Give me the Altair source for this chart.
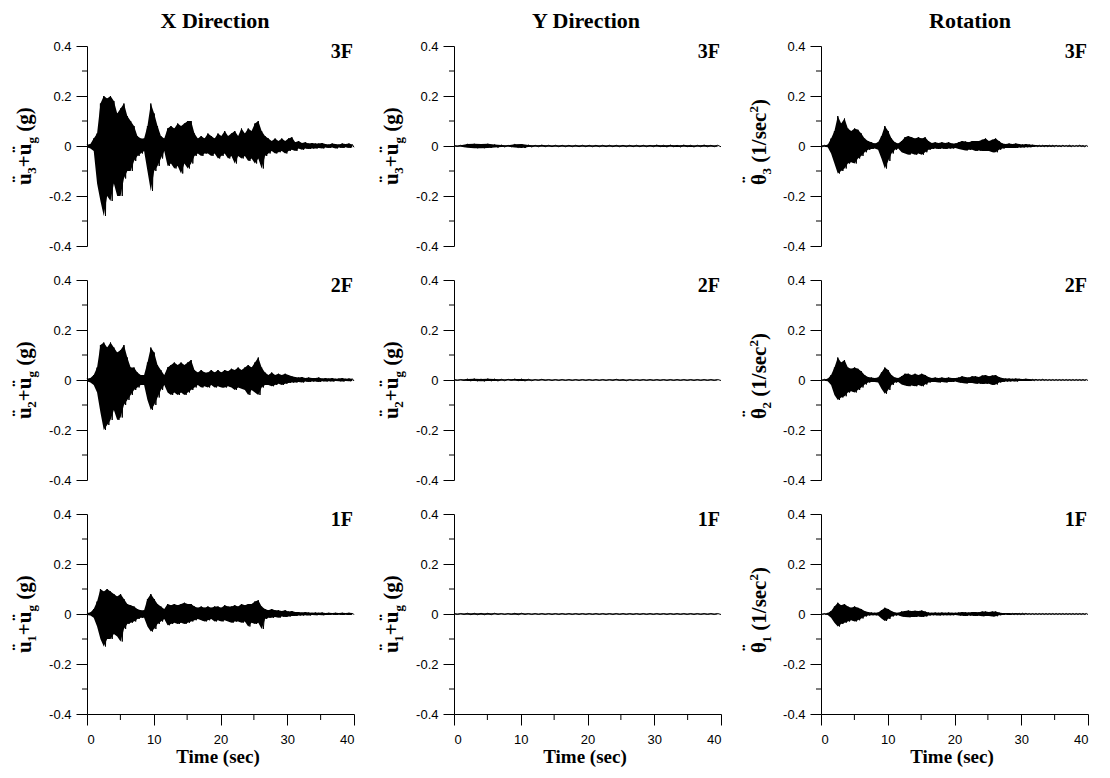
import altair as alt
import pandas as pd

# ---------------- data (peak envelopes) ----------------
# Each series: positive peaks (up) and negative peaks (lo) in successive
# windows over 0-40 s; drawn as one oscillating trace with its filled band.
TIME_END = 40
y_ticks = [-0.4, -0.2, 0, 0.2, 0.4]
y_minor = [-0.3, -0.1, 0.1, 0.3]
x_ticks = [0, 10, 20, 30, 40]
x_minor = [5, 15, 25, 35]

x3_up = [0.005, 0.008, 0.03, 0.05, 0.17, 0.20, 0.19, 0.20, 0.18, 0.13,
         0.15, 0.17, 0.12, 0.10, 0.08, 0.04, 0.03, 0.03, 0.08, 0.17,
         0.13, 0.08, 0.04, 0.03, 0.07, 0.08, 0.07, 0.09, 0.08, 0.09,
         0.10, 0.10, 0.05, 0.03, 0.04, 0.03, 0.05, 0.04, 0.03, 0.05,
         0.04, 0.06, 0.04, 0.05, 0.06, 0.04, 0.07, 0.05, 0.07, 0.06,
         0.09, 0.10, 0.06, 0.04, 0.03, 0.02, 0.03, 0.02, 0.03, 0.02,
         0.03, 0.035, 0.015, 0.02, 0.012, 0.015, 0.01, 0.012, 0.01, 0.01,
         0.012, 0.008, 0.006, 0.01, 0.008, 0.006, 0.01, 0.008, 0.01, 0.006]
x3_lo = [-0.005, -0.01, -0.02, -0.15, -0.22, -0.28, -0.20, -0.22, -0.15, -0.20,
         -0.20, -0.13, -0.10, -0.10, -0.06, -0.04, -0.03, -0.02, -0.10, -0.18,
         -0.10, -0.08, -0.05, -0.02, -0.08, -0.07, -0.09, -0.08, -0.11, -0.07,
         -0.09, -0.07, -0.04, -0.03, -0.04, -0.03, -0.03, -0.04, -0.03, -0.05,
         -0.04, -0.03, -0.05, -0.04, -0.07, -0.04, -0.05, -0.04, -0.06, -0.05,
         -0.07, -0.05, -0.09, -0.04, -0.03, -0.02, -0.03, -0.025, -0.02, -0.03,
         -0.02, -0.015, -0.02, -0.01, -0.015, -0.01, -0.012, -0.01, -0.01, -0.008,
         -0.01, -0.006, -0.008, -0.006, -0.01, -0.006, -0.008, -0.005, -0.008, -0.005]

x2_up = [0.005, 0.008, 0.02, 0.05, 0.14, 0.15, 0.13, 0.15, 0.13, 0.11,
         0.12, 0.14, 0.09, 0.05, 0.05, 0.03, 0.02, 0.02, 0.07, 0.13,
         0.11, 0.06, 0.04, 0.02, 0.05, 0.06, 0.07, 0.06, 0.07, 0.06,
         0.07, 0.08, 0.04, 0.03, 0.04, 0.03, 0.03, 0.04, 0.03, 0.04,
         0.03, 0.04, 0.035, 0.045, 0.04, 0.05, 0.04, 0.05, 0.06, 0.05,
         0.07, 0.09, 0.05, 0.03, 0.02, 0.03, 0.02, 0.025, 0.02, 0.025,
         0.02, 0.015, 0.012, 0.01, 0.012, 0.008, 0.01, 0.008, 0.008, 0.01,
         0.006, 0.008, 0.006, 0.008, 0.005, 0.006, 0.008, 0.005, 0.006, 0.005]
x2_lo = [-0.005, -0.01, -0.02, -0.05, -0.13, -0.20, -0.18, -0.16, -0.12, -0.16,
         -0.15, -0.10, -0.08, -0.06, -0.04, -0.03, -0.02, -0.02, -0.08, -0.12,
         -0.10, -0.07, -0.04, -0.02, -0.05, -0.06, -0.05, -0.06, -0.05, -0.06,
         -0.05, -0.04, -0.03, -0.02, -0.03, -0.025, -0.03, -0.02, -0.03, -0.025,
         -0.03, -0.03, -0.025, -0.03, -0.04, -0.03, -0.035, -0.04, -0.06, -0.04,
         -0.05, -0.06, -0.03, -0.02, -0.02, -0.025, -0.02, -0.015, -0.02, -0.015,
         -0.012, -0.01, -0.01, -0.008, -0.01, -0.006, -0.008, -0.006, -0.006, -0.008,
         -0.005, -0.006, -0.005, -0.006, -0.004, -0.005, -0.006, -0.004, -0.005, -0.004]

x1_up = [0.004, 0.006, 0.02, 0.05, 0.10, 0.09, 0.10, 0.09, 0.08, 0.07,
         0.08, 0.06, 0.04, 0.035, 0.03, 0.02, 0.015, 0.015, 0.06, 0.08,
         0.06, 0.04, 0.03, 0.02, 0.04, 0.035, 0.04, 0.035, 0.04, 0.045,
         0.04, 0.04, 0.03, 0.025, 0.03, 0.025, 0.03, 0.025, 0.03, 0.03,
         0.025, 0.035, 0.03, 0.03, 0.035, 0.03, 0.04, 0.035, 0.04, 0.04,
         0.05, 0.055, 0.03, 0.02, 0.015, 0.02, 0.015, 0.015, 0.012, 0.015,
         0.01, 0.012, 0.008, 0.008, 0.006, 0.008, 0.006, 0.005, 0.006, 0.005,
         0.006, 0.004, 0.005, 0.004, 0.005, 0.004, 0.005, 0.004, 0.005, 0.004]
x1_lo = [-0.004, -0.006, -0.015, -0.05, -0.10, -0.13, -0.10, -0.10, -0.08, -0.09,
         -0.11, -0.06, -0.04, -0.035, -0.03, -0.02, -0.015, -0.015, -0.05, -0.07,
         -0.06, -0.04, -0.03, -0.02, -0.045, -0.04, -0.035, -0.04, -0.035, -0.04,
         -0.035, -0.03, -0.025, -0.02, -0.025, -0.03, -0.025, -0.02, -0.03, -0.025,
         -0.03, -0.025, -0.03, -0.035, -0.03, -0.03, -0.035, -0.03, -0.05, -0.035,
         -0.04, -0.035, -0.06, -0.02, -0.015, -0.015, -0.012, -0.015, -0.01, -0.012,
         -0.01, -0.008, -0.008, -0.006, -0.006, -0.005, -0.006, -0.004, -0.005, -0.004,
         -0.005, -0.004, -0.004, -0.003, -0.004, -0.003, -0.004, -0.003, -0.004, -0.003]

# Y direction: one-second windows
y3_up = [0.002, 0.003, 0.008, 0.009, 0.008, 0.009, 0.006, 0.004, 0.003, 0.007,
         0.008, 0.004, 0.003, 0.004, 0.003, 0.003, 0.003, 0.003, 0.003, 0.003,
         0.003, 0.003, 0.003, 0.003, 0.003, 0.003, 0.003, 0.003, 0.003, 0.003,
         0.004, 0.003, 0.004, 0.003, 0.004, 0.003, 0.003, 0.004, 0.003, 0.003]
y3_lo = [-0.002, -0.003, -0.007, -0.009, -0.009, -0.008, -0.006, -0.004, -0.003, -0.006,
         -0.008, -0.004, -0.003, -0.003, -0.003, -0.003, -0.003, -0.003, -0.003, -0.003,
         -0.003, -0.003, -0.003, -0.003, -0.003, -0.003, -0.003, -0.003, -0.003, -0.003,
         -0.003, -0.004, -0.003, -0.004, -0.003, -0.004, -0.003, -0.003, -0.003, -0.003]
y2_up = [0.002, 0.002, 0.004, 0.005, 0.004, 0.005, 0.004, 0.003, 0.003, 0.004,
         0.004, 0.003, 0.002, 0.003, 0.002, 0.002, 0.002, 0.002, 0.002, 0.002,
         0.002, 0.002, 0.002, 0.002, 0.003, 0.002, 0.002, 0.002, 0.002, 0.002,
         0.002, 0.002, 0.002, 0.002, 0.002, 0.002, 0.002, 0.002, 0.002, 0.002]
y2_lo = [-0.002, -0.002, -0.004, -0.004, -0.005, -0.004, -0.004, -0.003, -0.002, -0.003,
         -0.004, -0.003, -0.002, -0.002, -0.002, -0.002, -0.002, -0.002, -0.002, -0.002,
         -0.002, -0.002, -0.002, -0.002, -0.002, -0.003, -0.002, -0.002, -0.002, -0.002,
         -0.002, -0.002, -0.002, -0.002, -0.002, -0.002, -0.002, -0.002, -0.002, -0.002]
y1_up = [0.002, 0.002, 0.003, 0.003, 0.003, 0.003, 0.003, 0.002, 0.002, 0.003,
         0.003, 0.002, 0.002, 0.002, 0.002, 0.002, 0.002, 0.002, 0.002, 0.002,
         0.002, 0.002, 0.002, 0.002, 0.002, 0.002, 0.002, 0.002, 0.002, 0.002,
         0.002, 0.002, 0.002, 0.002, 0.002, 0.002, 0.002, 0.002, 0.002, 0.002]
y1_lo = [-0.002, -0.002, -0.003, -0.003, -0.003, -0.003, -0.002, -0.002, -0.002, -0.003,
         -0.002, -0.002, -0.002, -0.002, -0.002, -0.002, -0.002, -0.002, -0.002, -0.002,
         -0.002, -0.002, -0.002, -0.002, -0.002, -0.002, -0.002, -0.002, -0.002, -0.002,
         -0.002, -0.002, -0.002, -0.002, -0.002, -0.002, -0.002, -0.002, -0.002, -0.002]

r3_up = [0.003, 0.003, 0.005, 0.03, 0.06, 0.12, 0.09, 0.11, 0.07, 0.06,
         0.07, 0.065, 0.05, 0.03, 0.02, 0.015, 0.01, 0.015, 0.04, 0.08,
         0.06, 0.03, 0.015, 0.01, 0.02, 0.035, 0.04, 0.035, 0.03, 0.035,
         0.03, 0.035, 0.02, 0.012, 0.015, 0.012, 0.015, 0.012, 0.015, 0.01,
         0.01, 0.015, 0.02, 0.018, 0.015, 0.02, 0.02, 0.02, 0.025, 0.03,
         0.02, 0.025, 0.03, 0.02, 0.01, 0.008, 0.01, 0.008, 0.01, 0.008,
         0.006, 0.008, 0.006, 0.005, 0.004, 0.003, 0.003, 0.004, 0.003, 0.003,
         0.003, 0.002, 0.003, 0.002, 0.003, 0.002, 0.002, 0.003, 0.002, 0.002]
r3_lo = [-0.003, -0.003, -0.005, -0.03, -0.07, -0.11, -0.10, -0.09, -0.07, -0.065,
         -0.07, -0.05, -0.04, -0.025, -0.015, -0.012, -0.01, -0.015, -0.05, -0.09,
         -0.06, -0.03, -0.015, -0.01, -0.025, -0.03, -0.035, -0.03, -0.035, -0.03,
         -0.035, -0.025, -0.015, -0.012, -0.01, -0.012, -0.01, -0.012, -0.01, -0.01,
         -0.008, -0.012, -0.015, -0.018, -0.015, -0.015, -0.02, -0.018, -0.02, -0.02,
         -0.02, -0.025, -0.025, -0.015, -0.01, -0.008, -0.008, -0.008, -0.008, -0.006,
         -0.006, -0.005, -0.005, -0.004, -0.003, -0.003, -0.003, -0.003, -0.003, -0.003,
         -0.002, -0.003, -0.002, -0.002, -0.003, -0.002, -0.002, -0.002, -0.003, -0.002]

r2_up = [0.002, 0.003, 0.005, 0.02, 0.05, 0.09, 0.07, 0.08, 0.05, 0.045,
         0.05, 0.045, 0.035, 0.02, 0.012, 0.01, 0.008, 0.01, 0.03, 0.05,
         0.04, 0.02, 0.01, 0.008, 0.015, 0.025, 0.025, 0.02, 0.025, 0.02,
         0.025, 0.02, 0.012, 0.008, 0.01, 0.008, 0.01, 0.008, 0.01, 0.008,
         0.008, 0.01, 0.015, 0.012, 0.01, 0.015, 0.015, 0.012, 0.018, 0.02,
         0.015, 0.018, 0.02, 0.012, 0.008, 0.006, 0.006, 0.005, 0.006, 0.005,
         0.004, 0.005, 0.004, 0.003, 0.003, 0.002, 0.003, 0.002, 0.002, 0.002,
         0.002, 0.002, 0.002, 0.002, 0.002, 0.002, 0.002, 0.002, 0.002, 0.002]
r2_lo = [-0.002, -0.003, -0.005, -0.02, -0.06, -0.08, -0.07, -0.065, -0.05, -0.045,
         -0.05, -0.04, -0.03, -0.018, -0.01, -0.008, -0.008, -0.01, -0.035, -0.055,
         -0.04, -0.02, -0.01, -0.008, -0.018, -0.022, -0.025, -0.022, -0.025, -0.02,
         -0.025, -0.018, -0.01, -0.008, -0.008, -0.01, -0.008, -0.01, -0.008, -0.008,
         -0.006, -0.01, -0.012, -0.014, -0.012, -0.012, -0.015, -0.014, -0.016, -0.015,
         -0.015, -0.02, -0.018, -0.01, -0.008, -0.006, -0.006, -0.005, -0.006, -0.004,
         -0.004, -0.004, -0.004, -0.003, -0.002, -0.002, -0.002, -0.002, -0.002, -0.002,
         -0.002, -0.002, -0.002, -0.002, -0.002, -0.002, -0.002, -0.002, -0.002, -0.002]

r1_up = [0.002, 0.002, 0.004, 0.012, 0.03, 0.045, 0.035, 0.04, 0.03, 0.025,
         0.03, 0.025, 0.02, 0.012, 0.008, 0.006, 0.005, 0.006, 0.015, 0.025,
         0.02, 0.012, 0.006, 0.005, 0.01, 0.012, 0.014, 0.012, 0.013, 0.012,
         0.014, 0.01, 0.006, 0.005, 0.006, 0.005, 0.006, 0.005, 0.006, 0.005,
         0.005, 0.006, 0.008, 0.007, 0.006, 0.008, 0.008, 0.007, 0.01, 0.01,
         0.008, 0.01, 0.01, 0.006, 0.004, 0.004, 0.004, 0.003, 0.004, 0.003,
         0.003, 0.003, 0.002, 0.002, 0.002, 0.002, 0.002, 0.002, 0.002, 0.002,
         0.002, 0.002, 0.002, 0.002, 0.002, 0.002, 0.002, 0.002, 0.002, 0.002]
r1_lo = [-0.002, -0.002, -0.004, -0.015, -0.035, -0.05, -0.04, -0.035, -0.03, -0.025,
         -0.03, -0.025, -0.018, -0.01, -0.006, -0.005, -0.005, -0.006, -0.018, -0.028,
         -0.02, -0.01, -0.006, -0.005, -0.01, -0.012, -0.013, -0.012, -0.012, -0.01,
         -0.012, -0.01, -0.006, -0.005, -0.005, -0.006, -0.005, -0.005, -0.005, -0.005,
         -0.004, -0.006, -0.007, -0.008, -0.006, -0.007, -0.008, -0.007, -0.009, -0.008,
         -0.008, -0.01, -0.009, -0.005, -0.004, -0.003, -0.004, -0.003, -0.003, -0.003,
         -0.003, -0.002, -0.002, -0.002, -0.002, -0.002, -0.002, -0.002, -0.002, -0.002,
         -0.002, -0.002, -0.002, -0.002, -0.002, -0.002, -0.002, -0.002, -0.002, -0.002]

col_titles = ["X Direction", "Y Direction", "Rotation"]
floors = ["3F", "2F", "1F"]
floor_num = ["3", "2", "1"]

series = {
    (0, 0): (x3_up, x3_lo), (0, 1): (y3_up, y3_lo), (0, 2): (r3_up, r3_lo),
    (1, 0): (x2_up, x2_lo), (1, 1): (y2_up, y2_lo), (1, 2): (r2_up, r2_lo),
    (2, 0): (x1_up, x1_lo), (2, 1): (y1_up, y1_lo), (2, 2): (r1_up, r1_lo),
}

# ---------------- helpers ----------------
W, H = 267, 200
SERIF = "Liberation Serif"
SANS = "Liberation Sans"
one = pd.DataFrame({"k": [0]})


def tables(up, lo):
    assert len(up) == len(lo)
    vals = []
    for u, l in zip(up, lo):
        vals += [u, l]
    m = len(vals)
    t = [TIME_END * k / (m - 1) for k in range(m)]
    trace = pd.DataFrame({"t": t, "a": vals})
    band = pd.DataFrame({"t": t[0::2], "hi": up, "lo": lo})
    return trace, band


def txt(s, x, y, size, dx=0, dy=0, angle=None, align="center", weight="bold"):
    kw = dict(text=s, fontSize=size, font=SERIF, fontWeight=weight, align=align,
              baseline="alphabetic", dx=dx, dy=dy, color="black")
    if angle is not None:
        kw["angle"] = angle
    return alt.Chart(one).mark_text(**kw).encode(x=alt.value(x), y=alt.value(y))


def ylabel(col, row):
    n = floor_num[row]
    y0 = 139
    if col < 2:
        x0 = -56
        segs = [("u", 0, 0, 21), ("\u00a8", 2.3, -4, 21), (n, 11.2, 5, 13),
                ("+", 17.7, 0, 21), ("u", 29.7, 0, 21), ("\u00a8", 32.0, -4, 21),
                ("g", 41.4, 5, 13), ("(g)", 53.2, 0, 21)]
    else:
        x0 = -55
        segs = [("θ", 0, 0, 21), ("\u00a8", 1.8, -9, 21), (n, 10.5, 5, 13),
                ("(1/sec", 22.3, 0, 21), ("2", 72.4, -8, 13), (")", 78.9, 0, 21)]
    return [txt(s, x0, y0, size, dx=dx, dy=dy, angle=270, align="left")
            for (s, dx, dy, size) in segs]


ylab_expr = ("datum.value > 0.001 ? format(datum.value, '.1f') : "
             "(datum.value < -0.001 ? '-' + format(-datum.value, '.1f') : '0')")


def panel(row, col):
    up, lo = series[(row, col)]
    trace, band = tables(up, lo)
    bottom = row == 2
    x_axis = alt.Axis(values=x_ticks, tickSize=11, labelPadding=8, labelFont=SANS,
                      labelFontSize=13, title=None, grid=False, format="d") if bottom else None
    y_axis = alt.Axis(values=y_ticks, tickSize=11, labelPadding=5, labelFont=SANS,
                      labelFontSize=13, title=None, grid=False, labelExpr=ylab_expr)
    xs = alt.Scale(domain=[0, TIME_END], nice=False, zero=False)
    ys = alt.Scale(domain=[-0.4, 0.4], nice=False)
    area = alt.Chart(band).mark_area(color="black", opacity=1).encode(
        x=alt.X("t:Q", scale=xs, axis=x_axis),
        y=alt.Y("hi:Q", scale=ys, axis=y_axis),
        y2="lo:Q",
    )
    line = alt.Chart(trace).mark_line(color="black", strokeWidth=1).encode(
        x=alt.X("t:Q", scale=xs),
        y=alt.Y("a:Q", scale=ys),
    )
    yminor = alt.Chart(pd.DataFrame({"v": y_minor})).mark_rule(color="black", strokeWidth=1).encode(
        y=alt.Y("v:Q", scale=ys), x=alt.value(-5), x2=alt.value(0)
    )
    layers = [area, line, yminor]
    if bottom:
        xminor = alt.Chart(pd.DataFrame({"v": x_minor})).mark_rule(color="black", strokeWidth=1).encode(
            x=alt.X("v:Q", scale=xs), y=alt.value(H), y2=alt.value(H + 6)
        )
        layers.append(xminor)
        layers.append(txt("Time (sec)", 131, 249, 19))
    if row == 0:
        tx = [128, 132, 149][col]
        layers.append(txt(col_titles[col], tx, -18, 22))
    layers.append(txt(floors[row], 266, 12, 20, align="right"))
    layers += ylabel(col, row)
    return alt.layer(*layers).properties(width=W, height=H)


panels = [panel(r, c) for r in range(3) for c in range(3)]

chart = alt.concat(*panels, columns=3, spacing={"row": 34, "column": 100},
                   bounds="flush").properties(
    padding={"left": 2, "top": 2, "right": 0, "bottom": 0}
).configure_view(stroke=None).configure_axis(
    domainColor="black", tickColor="black", labelColor="black",
    domainWidth=1, tickWidth=1
)

chart.save("out.html", embed_options={"renderer": "svg", "actions": False})
